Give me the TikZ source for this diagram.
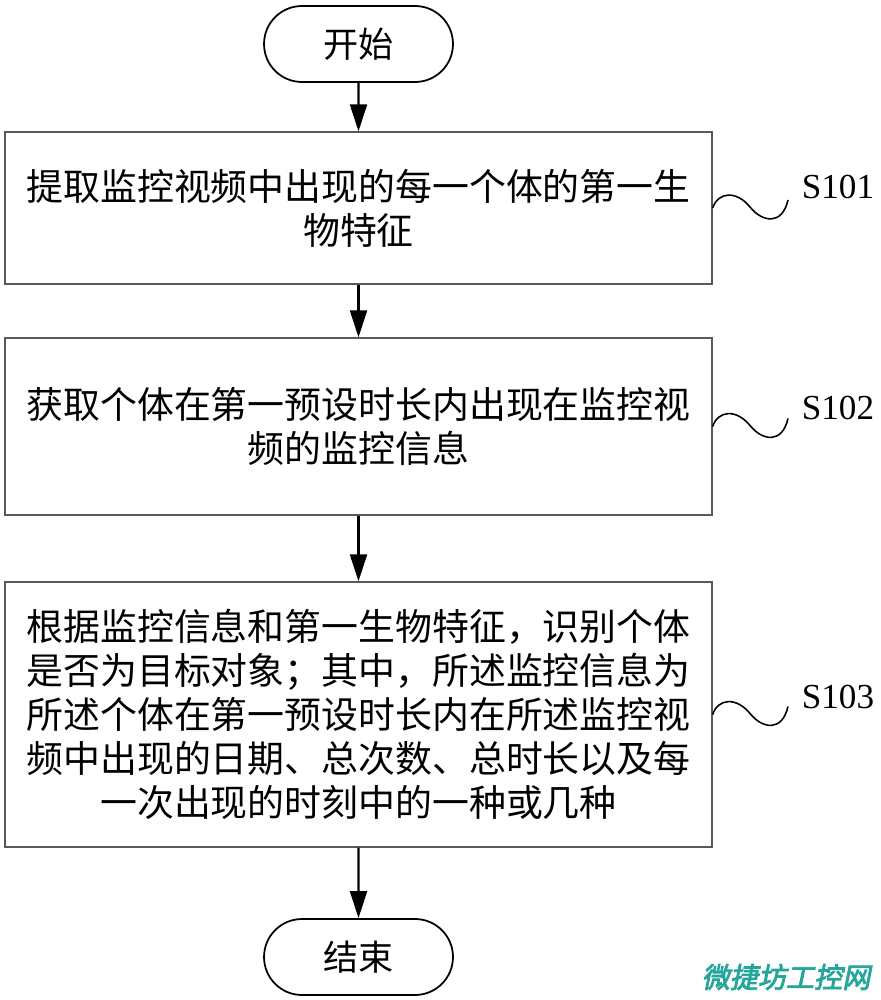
\documentclass[tikz,border=0pt]{standalone}
\usepackage{fontspec}
\newfontfamily\cjk{Noto Sans CJK SC}
\newfontfamily\tms{Liberation Serif}
\newfontfamily\wmfont{Noto Sans CJK SC}[FakeBold=3,FakeSlant=0.2]
\usetikzlibrary{arrows.meta,shapes.misc}
\definecolor{wmteal}{RGB}{38,166,154}
\begin{document}
\begin{tikzpicture}[x=0.02cm,y=-0.02cm,
 term/.style={draw,line width=1pt,rounded rectangle,minimum width=3.78cm,minimum height=1.52cm,inner sep=0pt,font=\cjk\fontsize{20pt}{24pt}\selectfont},
 stepbox/.style={draw=black!65,line width=0.8pt,minimum width=14.14cm,inner sep=0pt,align=center,font=\cjk\fontsize{21pt}{25pt}\selectfont},
 flow/.style={line width=1.2pt,-{Triangle[length=0.54cm,width=0.34cm]}},
 wave/.style={line width=0.9pt},
 lbl/.style={font=\tms\fontsize{20pt}{24pt}\selectfont,inner sep=0pt}]
\useasboundingbox (0,0) rectangle (880,1000);
\node[term] (start) at (358.5,44) {开始};
\node[stepbox,minimum height=3.04cm] (s1) at (358.5,208) {提取监控视频中出现的每一个体的第一生\\物特征};
\node[stepbox,minimum height=3.54cm] (s2) at (358.5,426.5) {获取个体在第一预设时长内出现在监控视\\频的监控信息};
\node[stepbox,minimum height=5.3cm] (s3) at (358.5,714.5) {根据监控信息和第一生物特征，识别个体\\是否为目标对象；其中，所述监控信息为\\所述个体在第一预设时长内在所述监控视\\频中出现的日期、总次数、总时长以及每\\一次出现的时刻中的一种或几种};
\node[term] (end) at (358.5,957) {结束};
\draw[flow] (start) -- (s1);
\draw[flow] (s1) -- (s2);
\draw[flow] (s2) -- (s3);
\draw[flow] (s3) -- (end);
\draw[wave] (s1.east) .. controls (718,192) and (736,190) .. (750,207) .. controls (762,222) and (782,226) .. (788,200);
\draw[wave] (s2.east) .. controls (718,410.5) and (736,408.5) .. (750,425.5) .. controls (762,440.5) and (782,444.5) .. (788,418.5);
\draw[wave] (s3.east) .. controls (718,698.5) and (736,696.5) .. (750,713.5) .. controls (762,728.5) and (782,732.5) .. (788,706.5);
\node[lbl] (l1) at (838,187) {S101};
\node[lbl] (l2) at (838,408) {S102};
\node[lbl] (l3) at (838,697) {S103};
\node[text=wmteal,font=\wmfont\fontsize{16pt}{16pt}\selectfont,inner sep=0pt] (wm) at (786,977) {微捷坊工控网};
\end{tikzpicture}
\end{document}
